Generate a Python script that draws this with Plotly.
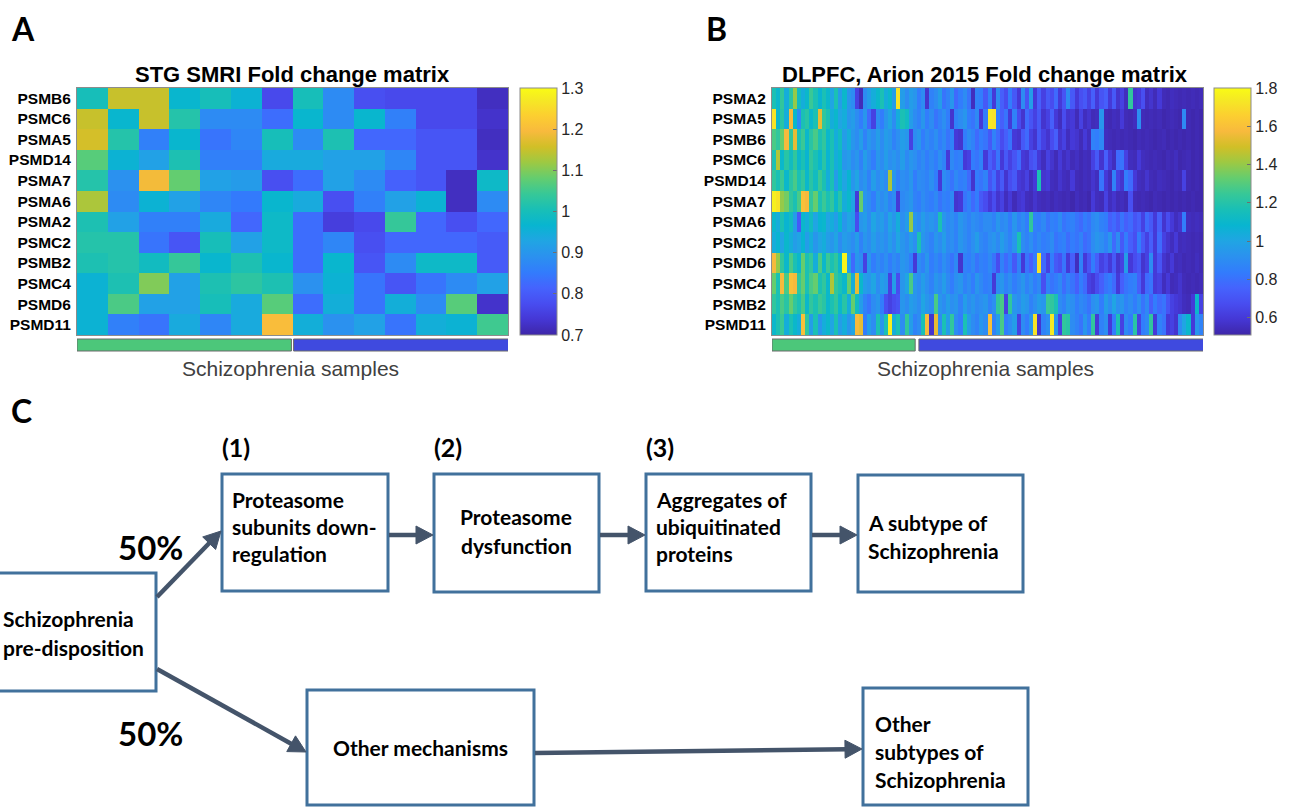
import math
import plotly.graph_objects as go

W, H = 1294, 809

# ---------------- data ----------------
genes_a = ["PSMB6", "PSMC6", "PSMA5", "PSMD14", "PSMA7", "PSMA6",
           "PSMA2", "PSMC2", "PSMB2", "PSMC4", "PSMD6", "PSMD11"]
fold_a = [
    [1.00, 1.15, 1.15, 0.97, 1.00, 0.96, 0.77, 1.00, 0.88, 0.78, 0.77, 0.77, 0.77, 0.72],
    [1.15, 0.97, 1.15, 1.02, 0.88, 0.88, 0.83, 0.97, 0.88, 0.97, 0.86, 0.77, 0.77, 0.73],
    [1.16, 1.02, 0.86, 0.97, 0.84, 0.87, 1.00, 0.88, 1.01, 0.82, 0.82, 0.79, 0.79, 0.72],
    [1.07, 0.96, 0.92, 1.01, 0.86, 0.86, 0.94, 0.94, 0.92, 0.92, 0.87, 0.79, 0.79, 0.73],
    [1.02, 0.89, 1.19, 1.08, 0.92, 0.91, 0.78, 0.83, 0.92, 0.88, 0.81, 0.79, 0.72, 0.98],
    [1.13, 0.88, 0.96, 0.92, 0.87, 0.85, 0.97, 0.94, 0.78, 0.86, 0.92, 0.96, 0.72, 0.88],
    [1.01, 0.92, 0.86, 0.86, 0.94, 0.82, 0.98, 0.83, 0.75, 0.77, 1.04, 0.82, 0.78, 0.82],
    [1.02, 1.02, 0.84, 0.79, 1.00, 0.92, 0.98, 0.83, 0.87, 0.78, 0.82, 0.82, 0.82, 0.80],
    [1.01, 1.02, 0.99, 1.04, 0.97, 1.01, 0.97, 0.83, 0.97, 0.79, 0.88, 0.98, 0.98, 0.80],
    [0.96, 1.01, 1.10, 0.92, 1.01, 1.03, 1.01, 0.89, 0.96, 0.84, 0.79, 0.84, 0.88, 0.92],
    [0.96, 1.06, 0.92, 0.92, 1.00, 0.94, 1.07, 0.83, 0.95, 0.84, 0.95, 0.88, 1.07, 0.73],
    [0.96, 0.86, 0.84, 0.94, 0.87, 0.94, 1.20, 0.95, 0.89, 0.92, 0.84, 0.95, 0.96, 1.05],
]
groups_a = [7, 7]          # samples in group 1 (green) and group 2 (blue)
ticks_a = [0.7, 0.8, 0.9, 1.0, 1.1, 1.2, 1.3]
ticktext_a = ["0.7", "0.8", "0.9", "1", "1.1", "1.2", "1.3"]

genes_b = ["PSMA2", "PSMA5", "PSMB6", "PSMC6", "PSMD14", "PSMA7",
           "PSMA6", "PSMC2", "PSMD6", "PSMC4", "PSMB2", "PSMD11"]
fold_b_psma2 = [1.17, 1.10, 1.23, 1.04, 1.21, 1.40, 1.13, 1.04, 1.10, 1.25, 1.17, 1.08, 1.17,
                1.10, 1.00, 1.17, 0.97, 1.10, 0.94, 0.90, 0.63, 0.54, 0.90, 0.97, 1.04, 1.10,
                1.17, 1.04, 1.10, 0.97, 1.72, 0.97, 0.90, 0.97, 0.94, 0.84, 0.90, 0.58, 0.86,
                0.90, 0.97, 0.81, 0.86, 0.94, 0.78, 0.84, 0.90, 0.81, 0.55, 0.86, 0.84, 0.72,
                0.86, 0.60, 0.90, 0.74, 0.67, 0.84, 0.72, 0.60, 0.90, 0.70, 0.97, 0.60, 0.74,
                0.63, 0.72, 0.67, 0.78, 0.60, 0.70, 0.90, 0.72, 0.60, 0.68, 0.72, 0.63, 0.74,
                0.60, 0.70, 0.74, 0.60, 0.72, 0.58, 0.63, 0.55, 1.23, 0.58, 0.60, 0.68, 0.55,
                0.58, 0.54, 0.60, 0.54, 0.53, 0.55, 0.54, 0.53, 0.54, 0.53, 0.54, 0.53, 0.54]
fold_b_psma5 = [1.72, 1.10, 1.21, 1.04, 1.57, 1.10, 0.90, 1.17, 1.21, 1.10, 1.17, 1.54, 1.23,
                1.17, 1.04, 1.10, 1.00, 1.04, 0.94, 0.97, 0.90, 0.84, 0.94, 0.78, 0.63, 0.90,
                0.84, 0.94, 1.00, 0.90, 1.04, 1.17, 1.13, 0.97, 0.90, 0.86, 0.94, 0.84, 0.90,
                0.81, 0.86, 0.91, 0.84, 0.58, 0.86, 0.90, 0.94, 0.84, 0.81, 0.89, 0.60, 0.84,
                1.74, 1.72, 0.84, 0.74, 0.81, 0.60, 0.86, 0.67, 0.58, 0.78, 0.70, 0.63, 0.72,
                0.58, 0.63, 0.74, 0.60, 0.55, 0.67, 0.58, 0.60, 0.54, 0.63, 0.55, 0.58, 0.54,
                0.55, 0.94, 0.54, 0.53, 0.55, 0.54, 0.60, 0.54, 0.53, 0.55, 0.91, 0.54, 0.53,
                0.54, 0.53, 0.54, 0.52, 0.53, 0.54, 0.53, 0.52, 0.89, 0.53, 0.52, 0.53, 0.52]
fold_b_psmb6 = [1.28, 1.23, 1.33, 1.57, 1.23, 1.54, 1.17, 1.25, 1.10, 1.21, 1.28, 1.17, 1.23,
                1.10, 1.17, 1.04, 1.13, 0.97, 1.04, 0.94, 0.90, 0.97, 0.86, 0.94, 0.90, 0.97,
                0.90, 0.97, 0.94, 0.86, 0.91, 0.97, 0.94, 0.63, 0.90, 0.94, 0.84, 0.90, 0.86,
                0.91, 0.84, 0.89, 0.81, 0.86, 0.60, 0.58, 0.84, 0.90, 0.86, 0.78, 0.84, 0.81,
                0.72, 0.86, 0.78, 0.67, 0.74, 0.81, 0.60, 0.58, 0.72, 0.78, 0.63, 0.58, 0.72,
                0.63, 0.58, 0.67, 0.74, 0.58, 0.63, 0.55, 0.60, 0.58, 0.54, 0.60, 0.55, 0.86,
                0.84, 0.89, 0.55, 0.54, 0.53, 0.54, 0.53, 0.54, 0.53, 0.52, 0.54, 0.53, 0.54,
                0.53, 0.52, 0.53, 0.54, 0.52, 0.53, 0.52, 0.53, 0.52, 0.53, 0.52, 0.53, 0.52]
fold_b_psmc6 = [1.17, 1.44, 1.10, 1.21, 1.13, 1.23, 1.10, 1.17, 1.08, 1.23, 1.17, 1.10, 1.21,
                1.08, 1.17, 1.04, 1.10, 0.94, 0.97, 0.90, 0.94, 0.86, 0.97, 0.90, 0.84, 0.94,
                0.90, 0.97, 0.91, 0.94, 0.90, 0.97, 0.89, 0.94, 0.91, 0.86, 0.90, 0.84, 0.89,
                0.84, 0.91, 0.86, 0.60, 0.89, 0.84, 0.86, 0.60, 0.63, 0.84, 0.81, 0.86, 0.60,
                0.74, 0.67, 0.81, 0.60, 0.72, 0.63, 0.70, 0.78, 0.60, 0.58, 0.68, 0.72, 0.60,
                0.55, 0.63, 0.58, 0.54, 0.60, 0.55, 0.58, 0.54, 0.56, 0.53, 0.55, 0.54, 0.63,
                0.72, 0.58, 0.74, 0.60, 0.55, 0.78, 0.81, 0.63, 0.55, 0.54, 0.60, 0.55, 0.54,
                0.53, 0.54, 0.53, 0.52, 0.54, 0.53, 0.55, 0.52, 0.53, 0.54, 0.52, 0.53, 0.52]
fold_b_psmd14 = [1.23, 1.17, 1.25, 1.10, 1.21, 1.28, 1.17, 1.23, 1.10, 1.21, 1.13, 1.25, 1.17,
                 1.04, 1.17, 0.97, 1.10, 1.00, 1.08, 0.94, 1.00, 0.90, 0.94, 0.86, 0.97, 0.90,
                 0.94, 0.90, 1.44, 0.94, 0.86, 0.91, 0.89, 0.94, 0.84, 0.90, 0.89, 0.86, 0.91,
                 0.84, 0.60, 0.90, 0.86, 0.81, 0.89, 0.84, 0.86, 0.78, 0.58, 0.84, 0.81, 0.86,
                 0.70, 0.78, 0.63, 0.72, 0.58, 0.67, 0.72, 0.60, 0.58, 0.63, 0.55, 0.60, 1.17,
                 0.58, 0.60, 0.55, 0.54, 0.58, 0.55, 0.54, 0.60, 0.54, 0.53, 0.55, 0.54, 0.58,
                 0.55, 0.81, 0.60, 0.55, 0.86, 0.63, 0.58, 0.84, 0.78, 0.60, 0.55, 0.54, 0.58,
                 0.54, 0.53, 0.55, 0.54, 0.53, 0.52, 0.54, 0.53, 0.63, 0.53, 0.52, 0.53, 0.52]
fold_b_psma7 = [1.76, 1.72, 1.40, 1.35, 1.23, 1.17, 1.28, 1.60, 1.57, 1.23, 1.33, 1.17, 1.25,
                1.17, 1.23, 1.10, 1.21, 1.04, 1.10, 1.00, 0.60, 1.33, 0.94, 0.90, 0.84, 0.94,
                0.90, 0.94, 0.86, 0.90, 0.60, 0.89, 0.91, 0.94, 0.86, 0.84, 0.90, 0.86, 0.84,
                0.89, 0.81, 0.86, 0.84, 0.89, 0.58, 0.60, 0.81, 0.86, 0.78, 0.84, 0.72, 0.67,
                0.60, 0.67, 0.58, 0.63, 0.55, 0.60, 0.54, 0.58, 0.60, 0.55, 0.54, 0.58, 0.55,
                0.54, 0.55, 0.53, 0.55, 0.54, 0.53, 0.54, 0.52, 0.55, 0.53, 0.54, 0.52, 0.60,
                0.55, 0.54, 0.63, 0.55, 0.58, 0.54, 0.55, 0.53, 0.68, 0.54, 0.53, 0.54, 0.53,
                0.52, 0.54, 0.53, 0.52, 0.53, 0.52, 0.53, 0.52, 0.53, 0.52, 0.53, 0.52, 0.52]
fold_b_psma6 = [1.10, 1.04, 1.17, 1.08, 1.13, 0.97, 0.72, 1.10, 1.04, 1.13, 1.00, 1.08, 1.10,
                1.00, 1.04, 0.97, 1.08, 0.94, 1.00, 0.97, 0.67, 0.94, 0.97, 0.90, 1.00, 0.94,
                0.97, 0.90, 1.00, 0.94, 1.04, 0.91, 0.97, 1.40, 0.94, 0.90, 0.97, 0.91, 0.94,
                0.90, 1.17, 0.94, 0.89, 0.91, 0.86, 0.94, 0.90, 0.86, 0.91, 0.89, 0.86, 0.90,
                0.90, 0.86, 0.94, 0.89, 0.91, 0.84, 0.94, 0.86, 0.90, 0.84, 1.23, 0.86, 0.84,
                0.89, 0.81, 0.86, 0.84, 0.90, 0.81, 0.84, 0.86, 0.81, 0.78, 0.84, 0.81, 0.89,
                0.91, 0.86, 0.84, 0.74, 0.78, 0.72, 0.81, 0.74, 0.78, 0.70, 0.74, 0.63, 0.78,
                0.72, 0.60, 0.74, 0.58, 0.67, 0.60, 0.55, 0.58, 0.84, 0.55, 0.54, 0.55, 0.54]
fold_b_psmc2 = [1.04, 1.08, 1.00, 1.10, 1.04, 0.97, 1.00, 1.08, 0.97, 1.04, 0.94, 1.00, 1.04,
                0.97, 0.94, 1.00, 0.90, 0.97, 0.94, 0.90, 0.97, 0.86, 0.94, 0.90, 0.97, 0.91,
                0.94, 0.90, 0.97, 0.91, 1.00, 0.94, 0.90, 0.97, 0.91, 1.17, 0.94, 0.90, 0.86,
                0.94, 0.90, 0.97, 0.89, 0.91, 0.86, 0.94, 0.90, 0.86, 0.91, 0.97, 0.89, 0.86,
                0.91, 0.94, 0.89, 0.97, 0.91, 0.86, 0.94, 1.17, 0.90, 0.86, 0.91, 0.84, 0.89,
                0.84, 0.86, 0.90, 0.81, 0.84, 0.86, 0.79, 0.84, 0.81, 0.86, 0.78, 0.81, 0.90,
                0.94, 0.91, 0.86, 0.94, 0.78, 0.90, 0.72, 0.84, 0.74, 0.68, 0.84, 0.72, 0.63,
                0.74, 0.60, 0.78, 0.63, 0.58, 0.55, 0.60, 0.54, 0.55, 0.54, 0.53, 0.54, 0.53]
fold_b_psmd6 = [1.57, 1.40, 1.23, 1.10, 1.28, 1.17, 1.10, 1.33, 1.17, 1.23, 1.04, 1.28, 1.10,
                1.25, 1.17, 1.23, 1.10, 1.78, 0.97, 0.78, 0.94, 0.90, 0.63, 0.94, 0.84, 0.90,
                0.86, 0.91, 0.84, 0.90, 0.86, 0.94, 0.91, 0.84, 0.60, 0.90, 0.86, 0.94, 0.84,
                0.89, 0.84, 0.91, 0.86, 0.81, 0.89, 0.58, 0.86, 0.84, 0.89, 0.81, 0.86, 0.84,
                0.89, 0.81, 0.67, 0.86, 0.78, 0.84, 0.72, 0.86, 0.60, 0.81, 0.74, 0.84, 1.72,
                0.78, 0.63, 0.84, 0.72, 0.68, 0.81, 0.60, 0.74, 0.55, 0.86, 0.60, 0.70, 0.84,
                0.74, 0.63, 0.68, 0.60, 0.72, 0.58, 0.63, 0.97, 0.60, 0.67, 0.72, 0.58, 0.63,
                0.90, 0.60, 0.70, 0.58, 0.55, 0.60, 0.54, 0.55, 0.53, 0.54, 0.53, 0.55, 0.53]
fold_b_psmc4 = [1.33, 1.17, 1.57, 1.28, 1.60, 1.57, 1.23, 1.33, 1.17, 1.28, 1.33, 1.17, 1.23,
                1.10, 1.44, 1.23, 1.17, 1.10, 1.33, 1.04, 1.54, 1.10, 0.97, 0.94, 1.00, 0.90,
                0.97, 0.94, 0.63, 0.97, 0.67, 0.94, 1.00, 1.28, 0.94, 0.90, 0.97, 0.91, 0.86,
                0.94, 0.90, 0.97, 0.89, 0.84, 0.91, 0.94, 0.86, 0.90, 0.84, 0.94, 0.89, 0.84,
                0.86, 0.60, 0.90, 0.94, 0.86, 0.91, 0.84, 0.89, 0.94, 0.86, 0.91, 0.84, 0.89,
                0.68, 0.86, 0.81, 0.84, 0.89, 0.79, 0.86, 0.81, 0.74, 0.84, 0.78, 0.63, 0.60,
                0.67, 0.74, 0.81, 0.84, 0.78, 0.60, 0.74, 0.81, 0.84, 0.86, 0.74, 0.60, 0.78,
                0.81, 0.60, 0.63, 0.55, 0.60, 0.54, 0.55, 0.58, 0.54, 0.53, 0.54, 0.53, 0.54]
fold_b_psmb2 = [1.23, 1.17, 1.28, 1.21, 1.33, 1.23, 1.17, 1.28, 1.10, 1.23, 1.17, 1.25, 1.21,
                1.10, 1.17, 1.23, 1.10, 1.21, 1.04, 1.33, 1.13, 0.97, 0.86, 0.81, 0.90, 0.94,
                0.84, 0.68, 0.63, 0.67, 0.70, 0.94, 0.90, 0.97, 0.94, 0.90, 1.00, 0.94, 0.90,
                1.28, 0.94, 0.90, 0.97, 0.91, 0.94, 0.86, 0.97, 0.90, 0.94, 0.89, 0.91, 0.94,
                0.86, 0.91, 1.23, 1.28, 0.63, 1.23, 0.94, 0.90, 0.97, 0.94, 0.86, 0.91, 0.97,
                0.94, 1.25, 1.23, 1.17, 0.90, 0.86, 0.94, 0.91, 0.84, 0.89, 0.86, 0.81, 0.91,
                0.94, 0.84, 0.97, 0.90, 1.00, 0.91, 0.94, 0.86, 0.90, 0.84, 0.91, 0.81, 0.89,
                0.74, 0.84, 0.78, 0.81, 0.70, 0.63, 0.60, 0.58, 0.55, 0.54, 0.60, 1.10, 0.63]
fold_b_psmd11 = [1.10, 1.17, 1.25, 1.04, 1.17, 1.10, 1.04, 1.60, 1.23, 0.97, 1.17, 0.94, 1.04,
                 1.10, 1.00, 1.17, 0.97, 1.04, 0.94, 1.00, 1.57, 1.54, 0.84, 0.97, 0.90, 1.17,
                 0.94, 1.17, 1.76, 1.04, 1.17, 0.90, 1.23, 0.97, 0.86, 0.90, 1.17, 1.57, 0.58,
                 1.54, 0.90, 1.17, 0.97, 1.23, 0.90, 0.84, 1.17, 0.97, 0.90, 0.86, 0.94, 0.90,
                 1.60, 0.86, 0.97, 1.28, 0.84, 0.90, 0.97, 0.63, 0.90, 0.84, 0.94, 1.72, 0.58,
                 0.86, 0.91, 1.74, 0.94, 0.63, 1.23, 1.21, 0.90, 0.86, 0.81, 0.94, 0.84, 1.23,
                 0.60, 0.86, 0.91, 0.60, 0.84, 1.17, 0.63, 0.90, 0.84, 1.21, 0.63, 0.84, 0.89,
                 1.23, 0.60, 0.86, 0.81, 0.60, 0.63, 0.58, 0.90, 1.00, 1.10, 0.60, 0.94, 0.86]
fold_b = [fold_b_psma2, fold_b_psma5, fold_b_psmb6, fold_b_psmc6, fold_b_psmd14, fold_b_psma7,
          fold_b_psma6, fold_b_psmc2, fold_b_psmd6, fold_b_psmc4, fold_b_psmb2, fold_b_psmd11]
groups_b = [35, 69]
ticks_b = [0.6, 0.8, 1.0, 1.2, 1.4, 1.6, 1.8]
ticktext_b = ["0.6", "0.8", "1", "1.2", "1.4", "1.6", "1.8"]

# MATLAB parula colour map (sampled)
parula_rgb = [
    (0.2422, 0.1504, 0.6603), (0.2706, 0.2147, 0.8364), (0.2813, 0.3006, 0.9414),
    (0.2699, 0.3892, 0.9906), (0.1963, 0.4847, 0.9892), (0.1687, 0.5703, 0.9359),
    (0.1248, 0.6459, 0.8883), (0.0297, 0.7082, 0.8163), (0.0964, 0.7500, 0.7120),
    (0.2161, 0.7843, 0.5923), (0.3909, 0.8029, 0.4354), (0.6174, 0.7876, 0.2612),
    (0.8203, 0.7498, 0.1535), (0.9728, 0.7298, 0.2394), (0.9892, 0.8136, 0.1885),
    (0.9597, 0.9135, 0.1423), (0.9769, 0.9839, 0.0805),
]
stops = [0, 4, 8, 12, 16, 20, 24, 28, 32, 36, 40, 44, 48, 52, 56, 60, 63]
parula = [[s / 63, "rgb({},{},{})".format(*[round(c * 255) for c in rgb])]
          for s, rgb in zip(stops, parula_rgb)]

# ---------------- helpers (pixel -> paper) ----------------
def X(x):
    return x / W


def Y(y):
    return 1 - y / H


GREEN = "#4CC77A"
BLUE = "#3F4ADF"
FRAME = "#8C8C8C"
BOX = "#41719C"
ARROW = "#44546A"
LABEL_FONT = "Liberation Sans, Arial, sans-serif"
DIAG_FONT = "Lato, Carlito, Calibri, sans-serif"

fig = go.Figure()


def colorbar(x0, ticks, ticktext):
    return dict(
        x=X(x0), xanchor="left", y=Y(88), yanchor="top",
        len=(335 - 88) / H, lenmode="fraction",
        thickness=37, thicknessmode="pixels", xpad=0, ypad=0,
        outlinewidth=1, outlinecolor=FRAME,
        tickvals=ticks, ticktext=ticktext, ticks="inside", ticklen=4,
        tickcolor="#6E6E6E",
        tickfont=dict(family=LABEL_FONT, size=16, color="#262626"),
    )


fig.add_trace(go.Heatmap(
    z=fold_a, x=list(range(len(fold_a[0]))), y=genes_a,
    colorscale=parula, zmin=0.7, zmax=1.3, xaxis="x", yaxis="y",
    colorbar=colorbar(520, ticks_a, ticktext_a), hoverinfo="skip",
))
fig.add_trace(go.Heatmap(
    z=fold_b, x=list(range(len(fold_b[0]))), y=genes_b,
    colorscale=parula, zmin=0.51, zmax=1.80, xaxis="x2", yaxis="y2",
    colorbar=colorbar(1214, ticks_b, ticktext_b), hoverinfo="skip",
))

xa = dict(showticklabels=False, ticks="", showgrid=False, zeroline=False,
          showline=True, mirror=True, linecolor=FRAME, linewidth=1)
ya = dict(ticks="", showgrid=False, zeroline=False, autorange="reversed",
          showline=True, mirror=True, linecolor=FRAME, linewidth=1,
          ticklabelstandoff=2,
          tickfont=dict(family=LABEL_FONT, size=15.5, color="#000000", weight="bold"))

fig.update_layout(
    width=W, height=H, margin=dict(l=0, r=0, t=0, b=0),
    paper_bgcolor="white", plot_bgcolor="white", showlegend=False,
    xaxis=dict(xa, domain=[X(77), X(508)], range=[-0.5, len(fold_a[0]) - 0.5], anchor="y"),
    yaxis=dict(ya, domain=[Y(335), Y(88)], anchor="x"),
    xaxis2=dict(xa, domain=[X(772), X(1203)], range=[-0.5, len(fold_b[0]) - 0.5], anchor="y2"),
    yaxis2=dict(ya, domain=[Y(335), Y(88)], anchor="x2"),
)

shapes = []
annotations = []

# sample-group bars under each heat map
for xref, groups, gap in (("x", groups_a, 0.07), ("x2", groups_b, 0.9)):
    n1, n2 = groups
    shapes.append(dict(type="rect", xref=xref, yref="paper",
                       x0=-0.5, x1=n1 - 0.5 - gap / 2, y0=Y(351), y1=Y(339),
                       fillcolor=GREEN, line=dict(color="#6A6A6A", width=1)))
    shapes.append(dict(type="rect", xref=xref, yref="paper",
                       x0=n1 - 0.5 + gap / 2, x1=n1 + n2 - 0.5 + gap / 2, y0=Y(351), y1=Y(339),
                       fillcolor=BLUE, line=dict(color="#6A6A6A", width=1)))


def text(x, y, s, size, anchor="center", font=DIAG_FONT, bold=True, color="#000000"):
    annotations.append(dict(
        x=X(x), y=Y(y), xref="paper", yref="paper", text=s, showarrow=False,
        xanchor=anchor, yanchor="middle",
        font=dict(family=font, size=size, color=color, weight="bold" if bold else "normal"),
    ))


# panel titles and captions
text(292, 74, "STG SMRI Fold change matrix", 22, font=LABEL_FONT)
text(985, 74, "DLPFC, Arion 2015 Fold change matrix", 22, font=LABEL_FONT)
text(290, 368, "Schizophrenia samples", 21, font=LABEL_FONT, bold=False, color="#404040")
text(985, 368, "Schizophrenia samples", 21, font=LABEL_FONT, bold=False, color="#404040")
text(9, 28, "A", 32, anchor="left")
text(704, 28, "B", 32, anchor="left")
text(9, 410, "C", 32, anchor="left")

# ---------------- flow diagram ----------------
boxes = [
    (-5, 573, 156, 691),
    (222, 474, 388, 591),
    (434, 474, 599, 592),
    (646, 474, 811, 591),
    (858, 475, 1023, 592),
    (307, 690, 534, 805),
    (863, 688, 1028, 805),
]
for x0, y0, x1, y1 in boxes:
    shapes.append(dict(type="rect", xref="paper", yref="paper",
                       x0=X(x0), x1=X(x1), y0=Y(y1), y1=Y(y0),
                       fillcolor="white", line=dict(color=BOX, width=3)))

box_text = [
    (1, "left", [(618, "Schizophrenia"), (647, "pre-disposition")]),
    (230, "left", [(499, "Proteasome"), (526, "subunits down-"), (553, "regulation")]),
    (516, "center", [(516, "Proteasome"), (545, "dysfunction")]),
    (654, "left", [(499, "Aggregates of"), (526, "ubiquitinated"), (553, "proteins")]),
    (866, "left", [(522, "A subtype of"), (550, "Schizophrenia")]),
    (420, "center", [(747, "Other mechanisms")]),
    (873, "left", [(723, "Other"), (751, "subtypes of"), (779, "Schizophrenia")]),
]
for x, anchor, lines in box_text:
    for y, s in lines:
        text(x, y, s, 21, anchor=anchor)

for x, s in ((220, "(1)"), (432, "(2)"), (644, "(3)")):
    text(x, 447, s, 25, anchor="left")
text(150, 547, "50%", 33)
text(150, 733, "50%", 33)


def arrow(x0, y0, x1, y1, head=17, half=9, width=4.5):
    dx, dy = x1 - x0, y1 - y0
    L = math.hypot(dx, dy)
    ux, uy = dx / L, dy / L
    bx, by = x1 - ux * head, y1 - uy * head
    shapes.append(dict(type="line", xref="paper", yref="paper",
                       x0=X(x0), y0=Y(y0), x1=X(bx + ux * 2), y1=Y(by + uy * 2),
                       line=dict(color=ARROW, width=width)))
    nx, ny = -uy, ux
    pts = [(x1, y1), (bx + nx * half, by + ny * half), (bx - nx * half, by - ny * half)]
    path = "M " + " L ".join(f"{X(px):.5f},{Y(py):.5f}" for px, py in pts) + " Z"
    shapes.append(dict(type="path", xref="paper", yref="paper", path=path,
                       fillcolor=ARROW, line=dict(color=ARROW, width=1)))


arrow(157, 597, 221, 531)
arrow(389, 535, 433, 535)
arrow(600, 535, 645, 535)
arrow(812, 535, 857, 535)
arrow(157, 669, 306, 752)
arrow(535, 753, 862, 749)

fig.update_layout(shapes=shapes, annotations=annotations)
fig.write_html("out.html")
